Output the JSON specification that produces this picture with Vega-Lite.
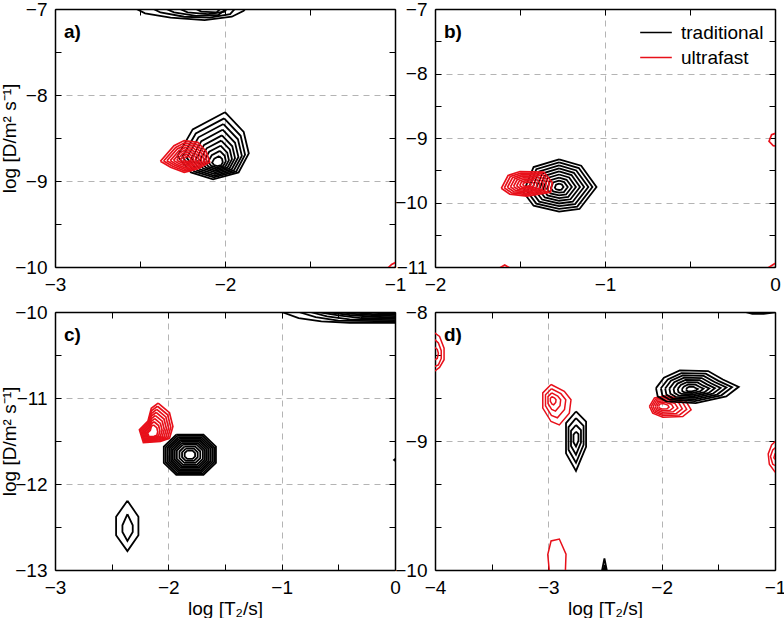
{
"$schema":"https://vega.github.io/schema/vega-lite/v6.json",
"padding":{"left":0,"top":0,"right":0,"bottom":0},
"data":{"values":[
{"p":"a","s":"t","r":1,"x":-2.57,"y":-6.95},{"p":"a","s":"t","r":1,"x":-2.47,"y":-7.05},{"p":"a","s":"t","r":1,"x":-2.32,"y":-7.1},{"p":"a","s":"t","r":1,"x":-2.12,"y":-7.13},{"p":"a","s":"t","r":1,"x":-1.96,"y":-7.09},{"p":"a","s":"t","r":1,"x":-1.89,"y":-7.02},{"p":"a","s":"t","r":1,"x":-1.86,"y":-6.95},
{"p":"a","s":"t","r":2,"x":-2.47,"y":-6.95},{"p":"a","s":"t","r":2,"x":-2.38,"y":-7.04},{"p":"a","s":"t","r":2,"x":-2.24,"y":-7.09},{"p":"a","s":"t","r":2,"x":-2.09,"y":-7.1},{"p":"a","s":"t","r":2,"x":-1.97,"y":-7.06},{"p":"a","s":"t","r":2,"x":-1.92,"y":-6.95},
{"p":"a","s":"t","r":3,"x":-2.4,"y":-6.95},{"p":"a","s":"t","r":3,"x":-2.3,"y":-7.04},{"p":"a","s":"t","r":3,"x":-2.17,"y":-7.08},{"p":"a","s":"t","r":3,"x":-2.04,"y":-7.07},{"p":"a","s":"t","r":3,"x":-1.96,"y":-6.95},
{"p":"a","s":"t","r":4,"x":-2.32,"y":-6.95},{"p":"a","s":"t","r":4,"x":-2.22,"y":-7.04},{"p":"a","s":"t","r":4,"x":-2.1,"y":-7.06},{"p":"a","s":"t","r":4,"x":-2.0,"y":-7.03},{"p":"a","s":"t","r":4,"x":-1.98,"y":-6.95},
{"p":"a","s":"t","r":5,"x":-2.22,"y":-6.95},{"p":"a","s":"t","r":5,"x":-2.14,"y":-7.03},{"p":"a","s":"t","r":5,"x":-2.05,"y":-7.04},{"p":"a","s":"t","r":5,"x":-2.0,"y":-6.95},
{"p":"a","s":"t","r":6,"x":-2.0,"y":-8.2},{"p":"a","s":"t","r":6,"x":-1.89,"y":-8.43},{"p":"a","s":"t","r":6,"x":-1.86,"y":-8.68},{"p":"a","s":"t","r":6,"x":-1.92,"y":-8.9},{"p":"a","s":"t","r":6,"x":-2.07,"y":-8.98},{"p":"a","s":"t","r":6,"x":-2.2,"y":-8.9},{"p":"a","s":"t","r":6,"x":-2.28,"y":-8.71},{"p":"a","s":"t","r":6,"x":-2.19,"y":-8.4},{"p":"a","s":"t","r":6,"x":-2.0,"y":-8.2},
{"p":"a","s":"t","r":7,"x":-2.005,"y":-8.272},{"p":"a","s":"t","r":7,"x":-1.908,"y":-8.474},{"p":"a","s":"t","r":7,"x":-1.882,"y":-8.694},{"p":"a","s":"t","r":7,"x":-1.934,"y":-8.888},{"p":"a","s":"t","r":7,"x":-2.066,"y":-8.958},{"p":"a","s":"t","r":7,"x":-2.181,"y":-8.888},{"p":"a","s":"t","r":7,"x":-2.251,"y":-8.721},{"p":"a","s":"t","r":7,"x":-2.172,"y":-8.448},{"p":"a","s":"t","r":7,"x":-2.005,"y":-8.272},
{"p":"a","s":"t","r":8,"x":-2.009,"y":-8.338},{"p":"a","s":"t","r":8,"x":-1.924,"y":-8.515},{"p":"a","s":"t","r":8,"x":-1.901,"y":-8.708},{"p":"a","s":"t","r":8,"x":-1.948,"y":-8.877},{"p":"a","s":"t","r":8,"x":-2.063,"y":-8.939},{"p":"a","s":"t","r":8,"x":-2.163,"y":-8.877},{"p":"a","s":"t","r":8,"x":-2.225,"y":-8.731},{"p":"a","s":"t","r":8,"x":-2.156,"y":-8.492},{"p":"a","s":"t","r":8,"x":-2.009,"y":-8.338},
{"p":"a","s":"t","r":9,"x":-2.014,"y":-8.404},{"p":"a","s":"t","r":9,"x":-1.941,"y":-8.556},{"p":"a","s":"t","r":9,"x":-1.921,"y":-8.721},{"p":"a","s":"t","r":9,"x":-1.961,"y":-8.866},{"p":"a","s":"t","r":9,"x":-2.06,"y":-8.919},{"p":"a","s":"t","r":9,"x":-2.146,"y":-8.866},{"p":"a","s":"t","r":9,"x":-2.198,"y":-8.741},{"p":"a","s":"t","r":9,"x":-2.139,"y":-8.536},{"p":"a","s":"t","r":9,"x":-2.014,"y":-8.404},
{"p":"a","s":"t","r":10,"x":-2.018,"y":-8.47},{"p":"a","s":"t","r":10,"x":-1.957,"y":-8.596},{"p":"a","s":"t","r":10,"x":-1.941,"y":-8.734},{"p":"a","s":"t","r":10,"x":-1.974,"y":-8.855},{"p":"a","s":"t","r":10,"x":-2.057,"y":-8.899},{"p":"a","s":"t","r":10,"x":-2.128,"y":-8.855},{"p":"a","s":"t","r":10,"x":-2.172,"y":-8.75},{"p":"a","s":"t","r":10,"x":-2.123,"y":-8.58},{"p":"a","s":"t","r":10,"x":-2.018,"y":-8.47},
{"p":"a","s":"t","r":11,"x":-2.022,"y":-8.53},{"p":"a","s":"t","r":11,"x":-1.972,"y":-8.633},{"p":"a","s":"t","r":11,"x":-1.959,"y":-8.746},{"p":"a","s":"t","r":11,"x":-1.986,"y":-8.845},{"p":"a","s":"t","r":11,"x":-2.054,"y":-8.881},{"p":"a","s":"t","r":11,"x":-2.112,"y":-8.845},{"p":"a","s":"t","r":11,"x":-2.148,"y":-8.759},{"p":"a","s":"t","r":11,"x":-2.108,"y":-8.62},{"p":"a","s":"t","r":11,"x":-2.022,"y":-8.53},
{"p":"a","s":"t","r":12,"x":-2.026,"y":-8.59},{"p":"a","s":"t","r":12,"x":-1.987,"y":-8.67},{"p":"a","s":"t","r":12,"x":-1.977,"y":-8.758},{"p":"a","s":"t","r":12,"x":-1.998,"y":-8.835},{"p":"a","s":"t","r":12,"x":-2.051,"y":-8.863},{"p":"a","s":"t","r":12,"x":-2.096,"y":-8.835},{"p":"a","s":"t","r":12,"x":-2.124,"y":-8.768},{"p":"a","s":"t","r":12,"x":-2.093,"y":-8.66},{"p":"a","s":"t","r":12,"x":-2.026,"y":-8.59},
{"p":"a","s":"t","r":13,"x":-2.03,"y":-8.65},{"p":"a","s":"t","r":13,"x":-2.002,"y":-8.707},{"p":"a","s":"t","r":13,"x":-1.995,"y":-8.77},{"p":"a","s":"t","r":13,"x":-2.01,"y":-8.825},{"p":"a","s":"t","r":13,"x":-2.048,"y":-8.845},{"p":"a","s":"t","r":13,"x":-2.08,"y":-8.825},{"p":"a","s":"t","r":13,"x":-2.1,"y":-8.777},{"p":"a","s":"t","r":13,"x":-2.078,"y":-8.7},{"p":"a","s":"t","r":13,"x":-2.03,"y":-8.65},
{"p":"a","s":"t","r":14,"x":-2.034,"y":-8.71},{"p":"a","s":"t","r":14,"x":-2.017,"y":-8.744},{"p":"a","s":"t","r":14,"x":-2.013,"y":-8.782},{"p":"a","s":"t","r":14,"x":-2.022,"y":-8.815},{"p":"a","s":"t","r":14,"x":-2.045,"y":-8.827},{"p":"a","s":"t","r":14,"x":-2.064,"y":-8.815},{"p":"a","s":"t","r":14,"x":-2.076,"y":-8.786},{"p":"a","s":"t","r":14,"x":-2.063,"y":-8.74},{"p":"a","s":"t","r":14,"x":-2.034,"y":-8.71},
{"p":"a","s":"u","r":15,"x":-2.38,"y":-8.77},{"p":"a","s":"u","r":15,"x":-2.3,"y":-8.59},{"p":"a","s":"u","r":15,"x":-2.24,"y":-8.53},{"p":"a","s":"u","r":15,"x":-2.16,"y":-8.55},{"p":"a","s":"u","r":15,"x":-2.11,"y":-8.66},{"p":"a","s":"u","r":15,"x":-2.09,"y":-8.78},{"p":"a","s":"u","r":15,"x":-2.16,"y":-8.86},{"p":"a","s":"u","r":15,"x":-2.24,"y":-8.9},{"p":"a","s":"u","r":15,"x":-2.32,"y":-8.84},{"p":"a","s":"u","r":15,"x":-2.38,"y":-8.77},
{"p":"a","s":"u","r":16,"x":-2.361,"y":-8.768},{"p":"a","s":"u","r":16,"x":-2.29,"y":-8.609},{"p":"a","s":"u","r":16,"x":-2.238,"y":-8.556},{"p":"a","s":"u","r":16,"x":-2.167,"y":-8.574},{"p":"a","s":"u","r":16,"x":-2.123,"y":-8.671},{"p":"a","s":"u","r":16,"x":-2.106,"y":-8.776},{"p":"a","s":"u","r":16,"x":-2.167,"y":-8.847},{"p":"a","s":"u","r":16,"x":-2.238,"y":-8.882},{"p":"a","s":"u","r":16,"x":-2.308,"y":-8.829},{"p":"a","s":"u","r":16,"x":-2.361,"y":-8.768},
{"p":"a","s":"u","r":17,"x":-2.342,"y":-8.765},{"p":"a","s":"u","r":17,"x":-2.281,"y":-8.628},{"p":"a","s":"u","r":17,"x":-2.235,"y":-8.583},{"p":"a","s":"u","r":17,"x":-2.174,"y":-8.598},{"p":"a","s":"u","r":17,"x":-2.136,"y":-8.682},{"p":"a","s":"u","r":17,"x":-2.121,"y":-8.773},{"p":"a","s":"u","r":17,"x":-2.174,"y":-8.834},{"p":"a","s":"u","r":17,"x":-2.235,"y":-8.864},{"p":"a","s":"u","r":17,"x":-2.296,"y":-8.818},{"p":"a","s":"u","r":17,"x":-2.342,"y":-8.765},
{"p":"a","s":"u","r":18,"x":-2.322,"y":-8.763},{"p":"a","s":"u","r":18,"x":-2.271,"y":-8.648},{"p":"a","s":"u","r":18,"x":-2.233,"y":-8.609},{"p":"a","s":"u","r":18,"x":-2.182,"y":-8.622},{"p":"a","s":"u","r":18,"x":-2.15,"y":-8.692},{"p":"a","s":"u","r":18,"x":-2.137,"y":-8.769},{"p":"a","s":"u","r":18,"x":-2.182,"y":-8.82},{"p":"a","s":"u","r":18,"x":-2.233,"y":-8.846},{"p":"a","s":"u","r":18,"x":-2.284,"y":-8.808},{"p":"a","s":"u","r":18,"x":-2.322,"y":-8.763},
{"p":"a","s":"u","r":19,"x":-2.303,"y":-8.76},{"p":"a","s":"u","r":19,"x":-2.262,"y":-8.667},{"p":"a","s":"u","r":19,"x":-2.23,"y":-8.636},{"p":"a","s":"u","r":19,"x":-2.189,"y":-8.646},{"p":"a","s":"u","r":19,"x":-2.163,"y":-8.703},{"p":"a","s":"u","r":19,"x":-2.152,"y":-8.766},{"p":"a","s":"u","r":19,"x":-2.189,"y":-8.807},{"p":"a","s":"u","r":19,"x":-2.23,"y":-8.828},{"p":"a","s":"u","r":19,"x":-2.272,"y":-8.797},{"p":"a","s":"u","r":19,"x":-2.303,"y":-8.76},
{"p":"a","s":"u","r":20,"x":-2.284,"y":-8.758},{"p":"a","s":"u","r":20,"x":-2.252,"y":-8.686},{"p":"a","s":"u","r":20,"x":-2.228,"y":-8.662},{"p":"a","s":"u","r":20,"x":-2.196,"y":-8.67},{"p":"a","s":"u","r":20,"x":-2.176,"y":-8.714},{"p":"a","s":"u","r":20,"x":-2.168,"y":-8.762},{"p":"a","s":"u","r":20,"x":-2.196,"y":-8.794},{"p":"a","s":"u","r":20,"x":-2.228,"y":-8.81},{"p":"a","s":"u","r":20,"x":-2.26,"y":-8.786},{"p":"a","s":"u","r":20,"x":-2.284,"y":-8.758},
{"p":"a","s":"u","r":21,"x":-2.265,"y":-8.756},{"p":"a","s":"u","r":21,"x":-2.242,"y":-8.705},{"p":"a","s":"u","r":21,"x":-2.226,"y":-8.688},{"p":"a","s":"u","r":21,"x":-2.203,"y":-8.694},{"p":"a","s":"u","r":21,"x":-2.189,"y":-8.725},{"p":"a","s":"u","r":21,"x":-2.184,"y":-8.758},{"p":"a","s":"u","r":21,"x":-2.203,"y":-8.781},{"p":"a","s":"u","r":21,"x":-2.226,"y":-8.792},{"p":"a","s":"u","r":21,"x":-2.248,"y":-8.775},{"p":"a","s":"u","r":21,"x":-2.265,"y":-8.756},
{"p":"a","s":"u","r":22,"x":-2.246,"y":-8.753},{"p":"a","s":"u","r":22,"x":-2.233,"y":-8.724},{"p":"a","s":"u","r":22,"x":-2.223,"y":-8.715},{"p":"a","s":"u","r":22,"x":-2.21,"y":-8.718},{"p":"a","s":"u","r":22,"x":-2.202,"y":-8.736},{"p":"a","s":"u","r":22,"x":-2.199,"y":-8.755},{"p":"a","s":"u","r":22,"x":-2.21,"y":-8.768},{"p":"a","s":"u","r":22,"x":-2.223,"y":-8.774},{"p":"a","s":"u","r":22,"x":-2.236,"y":-8.764},{"p":"a","s":"u","r":22,"x":-2.246,"y":-8.753},
{"p":"a","s":"u","r":23,"x":-1.06,"y":-10.05},{"p":"a","s":"u","r":23,"x":-1.02,"y":-9.97},{"p":"a","s":"u","r":23,"x":-0.98,"y":-9.93},
{"p":"a","s":"u","r":24,"x":-1.03,"y":-10.05},{"p":"a","s":"u","r":24,"x":-1.0,"y":-10.0},{"p":"a","s":"u","r":24,"x":-0.97,"y":-9.97},
{"p":"b","s":"t","r":25,"x":-1.27,"y":-9.33},{"p":"b","s":"t","r":25,"x":-1.14,"y":-9.43},{"p":"b","s":"t","r":25,"x":-1.05,"y":-9.76},{"p":"b","s":"t","r":25,"x":-1.15,"y":-10.1},{"p":"b","s":"t","r":25,"x":-1.27,"y":-10.14},{"p":"b","s":"t","r":25,"x":-1.42,"y":-10.05},{"p":"b","s":"t","r":25,"x":-1.48,"y":-9.84},{"p":"b","s":"t","r":25,"x":-1.42,"y":-9.45},{"p":"b","s":"t","r":25,"x":-1.27,"y":-9.33},
{"p":"b","s":"t","r":26,"x":-1.27,"y":-9.377},{"p":"b","s":"t","r":26,"x":-1.154,"y":-9.466},{"p":"b","s":"t","r":26,"x":-1.074,"y":-9.76},{"p":"b","s":"t","r":26,"x":-1.163,"y":-10.063},{"p":"b","s":"t","r":26,"x":-1.27,"y":-10.098},{"p":"b","s":"t","r":26,"x":-1.404,"y":-10.018},{"p":"b","s":"t","r":26,"x":-1.457,"y":-9.831},{"p":"b","s":"t","r":26,"x":-1.404,"y":-9.484},{"p":"b","s":"t","r":26,"x":-1.27,"y":-9.377},
{"p":"b","s":"t","r":27,"x":-1.27,"y":-9.425},{"p":"b","s":"t","r":27,"x":-1.169,"y":-9.503},{"p":"b","s":"t","r":27,"x":-1.098,"y":-9.76},{"p":"b","s":"t","r":27,"x":-1.176,"y":-10.025},{"p":"b","s":"t","r":27,"x":-1.27,"y":-10.056},{"p":"b","s":"t","r":27,"x":-1.387,"y":-9.986},{"p":"b","s":"t","r":27,"x":-1.434,"y":-9.822},{"p":"b","s":"t","r":27,"x":-1.387,"y":-9.518},{"p":"b","s":"t","r":27,"x":-1.27,"y":-9.425},
{"p":"b","s":"t","r":28,"x":-1.27,"y":-9.472},{"p":"b","s":"t","r":28,"x":-1.183,"y":-9.539},{"p":"b","s":"t","r":28,"x":-1.123,"y":-9.76},{"p":"b","s":"t","r":28,"x":-1.19,"y":-9.988},{"p":"b","s":"t","r":28,"x":-1.27,"y":-10.015},{"p":"b","s":"t","r":28,"x":-1.37,"y":-9.954},{"p":"b","s":"t","r":28,"x":-1.411,"y":-9.814},{"p":"b","s":"t","r":28,"x":-1.37,"y":-9.552},{"p":"b","s":"t","r":28,"x":-1.27,"y":-9.472},
{"p":"b","s":"t","r":29,"x":-1.27,"y":-9.519},{"p":"b","s":"t","r":29,"x":-1.197,"y":-9.575},{"p":"b","s":"t","r":29,"x":-1.147,"y":-9.76},{"p":"b","s":"t","r":29,"x":-1.203,"y":-9.95},{"p":"b","s":"t","r":29,"x":-1.27,"y":-9.973},{"p":"b","s":"t","r":29,"x":-1.354,"y":-9.922},{"p":"b","s":"t","r":29,"x":-1.388,"y":-9.805},{"p":"b","s":"t","r":29,"x":-1.354,"y":-9.586},{"p":"b","s":"t","r":29,"x":-1.27,"y":-9.519},
{"p":"b","s":"t","r":30,"x":-1.27,"y":-9.566},{"p":"b","s":"t","r":30,"x":-1.211,"y":-9.611},{"p":"b","s":"t","r":30,"x":-1.171,"y":-9.76},{"p":"b","s":"t","r":30,"x":-1.216,"y":-9.913},{"p":"b","s":"t","r":30,"x":-1.27,"y":-9.931},{"p":"b","s":"t","r":30,"x":-1.338,"y":-9.891},{"p":"b","s":"t","r":30,"x":-1.365,"y":-9.796},{"p":"b","s":"t","r":30,"x":-1.338,"y":-9.62},{"p":"b","s":"t","r":30,"x":-1.27,"y":-9.566},
{"p":"b","s":"t","r":31,"x":-1.27,"y":-9.614},{"p":"b","s":"t","r":31,"x":-1.226,"y":-9.648},{"p":"b","s":"t","r":31,"x":-1.195,"y":-9.76},{"p":"b","s":"t","r":31,"x":-1.229,"y":-9.876},{"p":"b","s":"t","r":31,"x":-1.27,"y":-9.889},{"p":"b","s":"t","r":31,"x":-1.321,"y":-9.859},{"p":"b","s":"t","r":31,"x":-1.341,"y":-9.787},{"p":"b","s":"t","r":31,"x":-1.321,"y":-9.655},{"p":"b","s":"t","r":31,"x":-1.27,"y":-9.614},
{"p":"b","s":"t","r":32,"x":-1.27,"y":-9.661},{"p":"b","s":"t","r":32,"x":-1.24,"y":-9.684},{"p":"b","s":"t","r":32,"x":-1.219,"y":-9.76},{"p":"b","s":"t","r":32,"x":-1.242,"y":-9.838},{"p":"b","s":"t","r":32,"x":-1.27,"y":-9.847},{"p":"b","s":"t","r":32,"x":-1.305,"y":-9.827},{"p":"b","s":"t","r":32,"x":-1.318,"y":-9.778},{"p":"b","s":"t","r":32,"x":-1.305,"y":-9.689},{"p":"b","s":"t","r":32,"x":-1.27,"y":-9.661},
{"p":"b","s":"t","r":33,"x":-1.27,"y":-9.708},{"p":"b","s":"t","r":33,"x":-1.254,"y":-9.72},{"p":"b","s":"t","r":33,"x":-1.244,"y":-9.76},{"p":"b","s":"t","r":33,"x":-1.256,"y":-9.801},{"p":"b","s":"t","r":33,"x":-1.27,"y":-9.806},{"p":"b","s":"t","r":33,"x":-1.288,"y":-9.795},{"p":"b","s":"t","r":33,"x":-1.295,"y":-9.77},{"p":"b","s":"t","r":33,"x":-1.288,"y":-9.723},{"p":"b","s":"t","r":33,"x":-1.27,"y":-9.708},
{"p":"b","s":"u","r":34,"x":-1.61,"y":-9.78},{"p":"b","s":"u","r":34,"x":-1.57,"y":-9.58},{"p":"b","s":"u","r":34,"x":-1.5,"y":-9.52},{"p":"b","s":"u","r":34,"x":-1.36,"y":-9.53},{"p":"b","s":"u","r":34,"x":-1.31,"y":-9.69},{"p":"b","s":"u","r":34,"x":-1.32,"y":-9.84},{"p":"b","s":"u","r":34,"x":-1.46,"y":-9.9},{"p":"b","s":"u","r":34,"x":-1.56,"y":-9.87},{"p":"b","s":"u","r":34,"x":-1.61,"y":-9.78},
{"p":"b","s":"u","r":35,"x":-1.592,"y":-9.773},{"p":"b","s":"u","r":35,"x":-1.557,"y":-9.597},{"p":"b","s":"u","r":35,"x":-1.495,"y":-9.544},{"p":"b","s":"u","r":35,"x":-1.372,"y":-9.553},{"p":"b","s":"u","r":35,"x":-1.328,"y":-9.694},{"p":"b","s":"u","r":35,"x":-1.337,"y":-9.826},{"p":"b","s":"u","r":35,"x":-1.46,"y":-9.878},{"p":"b","s":"u","r":35,"x":-1.548,"y":-9.852},{"p":"b","s":"u","r":35,"x":-1.592,"y":-9.773},
{"p":"b","s":"u","r":36,"x":-1.574,"y":-9.766},{"p":"b","s":"u","r":36,"x":-1.544,"y":-9.614},{"p":"b","s":"u","r":36,"x":-1.49,"y":-9.568},{"p":"b","s":"u","r":36,"x":-1.384,"y":-9.576},{"p":"b","s":"u","r":36,"x":-1.346,"y":-9.697},{"p":"b","s":"u","r":36,"x":-1.354,"y":-9.811},{"p":"b","s":"u","r":36,"x":-1.46,"y":-9.857},{"p":"b","s":"u","r":36,"x":-1.536,"y":-9.834},{"p":"b","s":"u","r":36,"x":-1.574,"y":-9.766},
{"p":"b","s":"u","r":37,"x":-1.556,"y":-9.758},{"p":"b","s":"u","r":37,"x":-1.53,"y":-9.63},{"p":"b","s":"u","r":37,"x":-1.486,"y":-9.592},{"p":"b","s":"u","r":37,"x":-1.396,"y":-9.598},{"p":"b","s":"u","r":37,"x":-1.364,"y":-9.701},{"p":"b","s":"u","r":37,"x":-1.37,"y":-9.797},{"p":"b","s":"u","r":37,"x":-1.46,"y":-9.835},{"p":"b","s":"u","r":37,"x":-1.524,"y":-9.816},{"p":"b","s":"u","r":37,"x":-1.556,"y":-9.758},
{"p":"b","s":"u","r":38,"x":-1.538,"y":-9.751},{"p":"b","s":"u","r":38,"x":-1.517,"y":-9.647},{"p":"b","s":"u","r":38,"x":-1.481,"y":-9.616},{"p":"b","s":"u","r":38,"x":-1.408,"y":-9.621},{"p":"b","s":"u","r":38,"x":-1.382,"y":-9.704},{"p":"b","s":"u","r":38,"x":-1.387,"y":-9.782},{"p":"b","s":"u","r":38,"x":-1.46,"y":-9.814},{"p":"b","s":"u","r":38,"x":-1.512,"y":-9.798},{"p":"b","s":"u","r":38,"x":-1.538,"y":-9.751},
{"p":"b","s":"u","r":39,"x":-1.52,"y":-9.744},{"p":"b","s":"u","r":39,"x":-1.504,"y":-9.664},{"p":"b","s":"u","r":39,"x":-1.476,"y":-9.64},{"p":"b","s":"u","r":39,"x":-1.42,"y":-9.644},{"p":"b","s":"u","r":39,"x":-1.4,"y":-9.708},{"p":"b","s":"u","r":39,"x":-1.404,"y":-9.768},{"p":"b","s":"u","r":39,"x":-1.46,"y":-9.792},{"p":"b","s":"u","r":39,"x":-1.5,"y":-9.78},{"p":"b","s":"u","r":39,"x":-1.52,"y":-9.744},
{"p":"b","s":"u","r":40,"x":-1.502,"y":-9.737},{"p":"b","s":"u","r":40,"x":-1.491,"y":-9.681},{"p":"b","s":"u","r":40,"x":-1.471,"y":-9.664},{"p":"b","s":"u","r":40,"x":-1.432,"y":-9.667},{"p":"b","s":"u","r":40,"x":-1.418,"y":-9.712},{"p":"b","s":"u","r":40,"x":-1.421,"y":-9.754},{"p":"b","s":"u","r":40,"x":-1.46,"y":-9.77},{"p":"b","s":"u","r":40,"x":-1.488,"y":-9.762},{"p":"b","s":"u","r":40,"x":-1.502,"y":-9.737},
{"p":"b","s":"u","r":41,"x":-1.484,"y":-9.73},{"p":"b","s":"u","r":41,"x":-1.478,"y":-9.698},{"p":"b","s":"u","r":41,"x":-1.466,"y":-9.688},{"p":"b","s":"u","r":41,"x":-1.444,"y":-9.69},{"p":"b","s":"u","r":41,"x":-1.436,"y":-9.715},{"p":"b","s":"u","r":41,"x":-1.438,"y":-9.739},{"p":"b","s":"u","r":41,"x":-1.46,"y":-9.749},{"p":"b","s":"u","r":41,"x":-1.476,"y":-9.744},{"p":"b","s":"u","r":41,"x":-1.484,"y":-9.73},
{"p":"b","s":"u","r":42,"x":0.03,"y":-8.9},{"p":"b","s":"u","r":42,"x":-0.02,"y":-8.95},{"p":"b","s":"u","r":42,"x":-0.035,"y":-9.05},{"p":"b","s":"u","r":42,"x":-0.01,"y":-9.12},{"p":"b","s":"u","r":42,"x":0.03,"y":-9.13},
{"p":"b","s":"u","r":43,"x":-1.63,"y":-11.03},{"p":"b","s":"u","r":43,"x":-1.59,"y":-10.97},{"p":"b","s":"u","r":43,"x":-1.55,"y":-11.03},
{"p":"b","s":"u","r":44,"x":-0.05,"y":-11.03},{"p":"b","s":"u","r":44,"x":-0.01,"y":-10.96},{"p":"b","s":"u","r":44,"x":0.03,"y":-10.9},
{"p":"b","s":"u","r":45,"x":-0.02,"y":-11.03},{"p":"b","s":"u","r":45,"x":0.03,"y":-10.97},
{"p":"c","s":"t","r":46,"x":-1.93,"y":-11.425},{"p":"c","s":"t","r":46,"x":-1.69,"y":-11.425},{"p":"c","s":"t","r":46,"x":-1.58,"y":-11.566},{"p":"c","s":"t","r":46,"x":-1.58,"y":-11.754},{"p":"c","s":"t","r":46,"x":-1.69,"y":-11.895},{"p":"c","s":"t","r":46,"x":-1.93,"y":-11.895},{"p":"c","s":"t","r":46,"x":-2.04,"y":-11.754},{"p":"c","s":"t","r":46,"x":-2.04,"y":-11.566},{"p":"c","s":"t","r":46,"x":-1.93,"y":-11.425},
{"p":"c","s":"t","r":47,"x":-1.922,"y":-11.441},{"p":"c","s":"t","r":47,"x":-1.698,"y":-11.441},{"p":"c","s":"t","r":47,"x":-1.596,"y":-11.573},{"p":"c","s":"t","r":47,"x":-1.596,"y":-11.747},{"p":"c","s":"t","r":47,"x":-1.698,"y":-11.879},{"p":"c","s":"t","r":47,"x":-1.922,"y":-11.879},{"p":"c","s":"t","r":47,"x":-2.024,"y":-11.747},{"p":"c","s":"t","r":47,"x":-2.024,"y":-11.573},{"p":"c","s":"t","r":47,"x":-1.922,"y":-11.441},
{"p":"c","s":"t","r":48,"x":-1.913,"y":-11.458},{"p":"c","s":"t","r":48,"x":-1.707,"y":-11.458},{"p":"c","s":"t","r":48,"x":-1.612,"y":-11.579},{"p":"c","s":"t","r":48,"x":-1.612,"y":-11.741},{"p":"c","s":"t","r":48,"x":-1.707,"y":-11.862},{"p":"c","s":"t","r":48,"x":-1.913,"y":-11.862},{"p":"c","s":"t","r":48,"x":-2.008,"y":-11.741},{"p":"c","s":"t","r":48,"x":-2.008,"y":-11.579},{"p":"c","s":"t","r":48,"x":-1.913,"y":-11.458},
{"p":"c","s":"t","r":49,"x":-1.905,"y":-11.474},{"p":"c","s":"t","r":49,"x":-1.715,"y":-11.474},{"p":"c","s":"t","r":49,"x":-1.628,"y":-11.586},{"p":"c","s":"t","r":49,"x":-1.628,"y":-11.734},{"p":"c","s":"t","r":49,"x":-1.715,"y":-11.846},{"p":"c","s":"t","r":49,"x":-1.905,"y":-11.846},{"p":"c","s":"t","r":49,"x":-1.992,"y":-11.734},{"p":"c","s":"t","r":49,"x":-1.992,"y":-11.586},{"p":"c","s":"t","r":49,"x":-1.905,"y":-11.474},
{"p":"c","s":"t","r":50,"x":-1.896,"y":-11.491},{"p":"c","s":"t","r":50,"x":-1.724,"y":-11.491},{"p":"c","s":"t","r":50,"x":-1.644,"y":-11.592},{"p":"c","s":"t","r":50,"x":-1.644,"y":-11.728},{"p":"c","s":"t","r":50,"x":-1.724,"y":-11.829},{"p":"c","s":"t","r":50,"x":-1.896,"y":-11.829},{"p":"c","s":"t","r":50,"x":-1.976,"y":-11.728},{"p":"c","s":"t","r":50,"x":-1.976,"y":-11.592},{"p":"c","s":"t","r":50,"x":-1.896,"y":-11.491},
{"p":"c","s":"t","r":51,"x":-1.888,"y":-11.507},{"p":"c","s":"t","r":51,"x":-1.732,"y":-11.507},{"p":"c","s":"t","r":51,"x":-1.66,"y":-11.599},{"p":"c","s":"t","r":51,"x":-1.66,"y":-11.721},{"p":"c","s":"t","r":51,"x":-1.732,"y":-11.813},{"p":"c","s":"t","r":51,"x":-1.888,"y":-11.813},{"p":"c","s":"t","r":51,"x":-1.96,"y":-11.721},{"p":"c","s":"t","r":51,"x":-1.96,"y":-11.599},{"p":"c","s":"t","r":51,"x":-1.888,"y":-11.507},
{"p":"c","s":"t","r":52,"x":-1.88,"y":-11.524},{"p":"c","s":"t","r":52,"x":-1.74,"y":-11.524},{"p":"c","s":"t","r":52,"x":-1.677,"y":-11.605},{"p":"c","s":"t","r":52,"x":-1.677,"y":-11.715},{"p":"c","s":"t","r":52,"x":-1.74,"y":-11.796},{"p":"c","s":"t","r":52,"x":-1.88,"y":-11.796},{"p":"c","s":"t","r":52,"x":-1.943,"y":-11.715},{"p":"c","s":"t","r":52,"x":-1.943,"y":-11.605},{"p":"c","s":"t","r":52,"x":-1.88,"y":-11.524},
{"p":"c","s":"t","r":53,"x":-1.87,"y":-11.542},{"p":"c","s":"t","r":53,"x":-1.75,"y":-11.542},{"p":"c","s":"t","r":53,"x":-1.695,"y":-11.613},{"p":"c","s":"t","r":53,"x":-1.695,"y":-11.707},{"p":"c","s":"t","r":53,"x":-1.75,"y":-11.778},{"p":"c","s":"t","r":53,"x":-1.87,"y":-11.778},{"p":"c","s":"t","r":53,"x":-1.925,"y":-11.707},{"p":"c","s":"t","r":53,"x":-1.925,"y":-11.613},{"p":"c","s":"t","r":53,"x":-1.87,"y":-11.542},
{"p":"c","s":"t","r":54,"x":-1.858,"y":-11.566},{"p":"c","s":"t","r":54,"x":-1.762,"y":-11.566},{"p":"c","s":"t","r":54,"x":-1.718,"y":-11.622},{"p":"c","s":"t","r":54,"x":-1.718,"y":-11.698},{"p":"c","s":"t","r":54,"x":-1.762,"y":-11.754},{"p":"c","s":"t","r":54,"x":-1.858,"y":-11.754},{"p":"c","s":"t","r":54,"x":-1.902,"y":-11.698},{"p":"c","s":"t","r":54,"x":-1.902,"y":-11.622},{"p":"c","s":"t","r":54,"x":-1.858,"y":-11.566},
{"p":"c","s":"t","r":55,"x":-1.846,"y":-11.589},{"p":"c","s":"t","r":55,"x":-1.774,"y":-11.589},{"p":"c","s":"t","r":55,"x":-1.741,"y":-11.632},{"p":"c","s":"t","r":55,"x":-1.741,"y":-11.688},{"p":"c","s":"t","r":55,"x":-1.774,"y":-11.731},{"p":"c","s":"t","r":55,"x":-1.846,"y":-11.731},{"p":"c","s":"t","r":55,"x":-1.879,"y":-11.688},{"p":"c","s":"t","r":55,"x":-1.879,"y":-11.632},{"p":"c","s":"t","r":55,"x":-1.846,"y":-11.589},
{"p":"c","s":"t","r":56,"x":-1.834,"y":-11.613},{"p":"c","s":"t","r":56,"x":-1.786,"y":-11.613},{"p":"c","s":"t","r":56,"x":-1.764,"y":-11.641},{"p":"c","s":"t","r":56,"x":-1.764,"y":-11.679},{"p":"c","s":"t","r":56,"x":-1.786,"y":-11.707},{"p":"c","s":"t","r":56,"x":-1.834,"y":-11.707},{"p":"c","s":"t","r":56,"x":-1.856,"y":-11.679},{"p":"c","s":"t","r":56,"x":-1.856,"y":-11.641},{"p":"c","s":"t","r":56,"x":-1.834,"y":-11.613},
{"p":"c","s":"u","r":57,"x":-2.09,"y":-11.06},{"p":"c","s":"u","r":57,"x":-1.99,"y":-11.17},{"p":"c","s":"u","r":57,"x":-1.96,"y":-11.33},{"p":"c","s":"u","r":57,"x":-1.99,"y":-11.47},{"p":"c","s":"u","r":57,"x":-2.07,"y":-11.505},{"p":"c","s":"u","r":57,"x":-2.22,"y":-11.52},{"p":"c","s":"u","r":57,"x":-2.255,"y":-11.37},{"p":"c","s":"u","r":57,"x":-2.18,"y":-11.27},{"p":"c","s":"u","r":57,"x":-2.15,"y":-11.12},{"p":"c","s":"u","r":57,"x":-2.09,"y":-11.06},
{"p":"c","s":"u","r":58,"x":-2.096,"y":-11.096},{"p":"c","s":"u","r":58,"x":-2.006,"y":-11.195},{"p":"c","s":"u","r":58,"x":-1.979,"y":-11.339},{"p":"c","s":"u","r":58,"x":-2.006,"y":-11.465},{"p":"c","s":"u","r":58,"x":-2.078,"y":-11.497},{"p":"c","s":"u","r":58,"x":-2.213,"y":-11.51},{"p":"c","s":"u","r":58,"x":-2.245,"y":-11.375},{"p":"c","s":"u","r":58,"x":-2.177,"y":-11.285},{"p":"c","s":"u","r":58,"x":-2.15,"y":-11.15},{"p":"c","s":"u","r":58,"x":-2.096,"y":-11.096},
{"p":"c","s":"u","r":59,"x":-2.102,"y":-11.132},{"p":"c","s":"u","r":59,"x":-2.022,"y":-11.22},{"p":"c","s":"u","r":59,"x":-1.998,"y":-11.348},{"p":"c","s":"u","r":59,"x":-2.022,"y":-11.46},{"p":"c","s":"u","r":59,"x":-2.086,"y":-11.488},{"p":"c","s":"u","r":59,"x":-2.206,"y":-11.5},{"p":"c","s":"u","r":59,"x":-2.234,"y":-11.38},{"p":"c","s":"u","r":59,"x":-2.174,"y":-11.3},{"p":"c","s":"u","r":59,"x":-2.15,"y":-11.18},{"p":"c","s":"u","r":59,"x":-2.102,"y":-11.132},
{"p":"c","s":"u","r":60,"x":-2.108,"y":-11.168},{"p":"c","s":"u","r":60,"x":-2.038,"y":-11.245},{"p":"c","s":"u","r":60,"x":-2.017,"y":-11.357},{"p":"c","s":"u","r":60,"x":-2.038,"y":-11.455},{"p":"c","s":"u","r":60,"x":-2.094,"y":-11.48},{"p":"c","s":"u","r":60,"x":-2.199,"y":-11.49},{"p":"c","s":"u","r":60,"x":-2.224,"y":-11.385},{"p":"c","s":"u","r":60,"x":-2.171,"y":-11.315},{"p":"c","s":"u","r":60,"x":-2.15,"y":-11.21},{"p":"c","s":"u","r":60,"x":-2.108,"y":-11.168},
{"p":"c","s":"u","r":61,"x":-2.114,"y":-11.204},{"p":"c","s":"u","r":61,"x":-2.054,"y":-11.27},{"p":"c","s":"u","r":61,"x":-2.036,"y":-11.366},{"p":"c","s":"u","r":61,"x":-2.054,"y":-11.45},{"p":"c","s":"u","r":61,"x":-2.102,"y":-11.471},{"p":"c","s":"u","r":61,"x":-2.192,"y":-11.48},{"p":"c","s":"u","r":61,"x":-2.213,"y":-11.39},{"p":"c","s":"u","r":61,"x":-2.168,"y":-11.33},{"p":"c","s":"u","r":61,"x":-2.15,"y":-11.24},{"p":"c","s":"u","r":61,"x":-2.114,"y":-11.204},
{"p":"c","s":"u","r":62,"x":-2.12,"y":-11.24},{"p":"c","s":"u","r":62,"x":-2.07,"y":-11.295},{"p":"c","s":"u","r":62,"x":-2.055,"y":-11.375},{"p":"c","s":"u","r":62,"x":-2.07,"y":-11.445},{"p":"c","s":"u","r":62,"x":-2.11,"y":-11.463},{"p":"c","s":"u","r":62,"x":-2.185,"y":-11.47},{"p":"c","s":"u","r":62,"x":-2.203,"y":-11.395},{"p":"c","s":"u","r":62,"x":-2.165,"y":-11.345},{"p":"c","s":"u","r":62,"x":-2.15,"y":-11.27},{"p":"c","s":"u","r":62,"x":-2.12,"y":-11.24},
{"p":"c","s":"u","r":63,"x":-2.126,"y":-11.276},{"p":"c","s":"u","r":63,"x":-2.086,"y":-11.32},{"p":"c","s":"u","r":63,"x":-2.074,"y":-11.384},{"p":"c","s":"u","r":63,"x":-2.086,"y":-11.44},{"p":"c","s":"u","r":63,"x":-2.118,"y":-11.454},{"p":"c","s":"u","r":63,"x":-2.178,"y":-11.46},{"p":"c","s":"u","r":63,"x":-2.192,"y":-11.4},{"p":"c","s":"u","r":63,"x":-2.162,"y":-11.36},{"p":"c","s":"u","r":63,"x":-2.15,"y":-11.3},{"p":"c","s":"u","r":63,"x":-2.126,"y":-11.276},
{"p":"c","s":"u","r":64,"x":-2.132,"y":-11.312},{"p":"c","s":"u","r":64,"x":-2.102,"y":-11.345},{"p":"c","s":"u","r":64,"x":-2.093,"y":-11.393},{"p":"c","s":"u","r":64,"x":-2.102,"y":-11.435},{"p":"c","s":"u","r":64,"x":-2.126,"y":-11.446},{"p":"c","s":"u","r":64,"x":-2.171,"y":-11.45},{"p":"c","s":"u","r":64,"x":-2.182,"y":-11.405},{"p":"c","s":"u","r":64,"x":-2.159,"y":-11.375},{"p":"c","s":"u","r":64,"x":-2.15,"y":-11.33},{"p":"c","s":"u","r":64,"x":-2.132,"y":-11.312},
{"p":"c","s":"t","r":65,"x":-2.361,"y":-12.195},{"p":"c","s":"t","r":65,"x":-2.264,"y":-12.38},{"p":"c","s":"t","r":65,"x":-2.264,"y":-12.596},{"p":"c","s":"t","r":65,"x":-2.361,"y":-12.78},{"p":"c","s":"t","r":65,"x":-2.461,"y":-12.596},{"p":"c","s":"t","r":65,"x":-2.461,"y":-12.38},{"p":"c","s":"t","r":65,"x":-2.361,"y":-12.195},
{"p":"c","s":"t","r":66,"x":-2.361,"y":-12.35},{"p":"c","s":"t","r":66,"x":-2.314,"y":-12.48},{"p":"c","s":"t","r":66,"x":-2.314,"y":-12.558},{"p":"c","s":"t","r":66,"x":-2.361,"y":-12.663},{"p":"c","s":"t","r":66,"x":-2.405,"y":-12.558},{"p":"c","s":"t","r":66,"x":-2.405,"y":-12.48},{"p":"c","s":"t","r":66,"x":-2.361,"y":-12.35},
{"p":"c","s":"t","r":67,"x":-1.0,"y":-10.0},{"p":"c","s":"t","r":67,"x":-0.85,"y":-10.07},{"p":"c","s":"t","r":67,"x":-0.65,"y":-10.11},{"p":"c","s":"t","r":67,"x":-0.4,"y":-10.125},{"p":"c","s":"t","r":67,"x":0.02,"y":-10.125},
{"p":"c","s":"t","r":68,"x":-0.85,"y":-10.0},{"p":"c","s":"t","r":68,"x":-0.7,"y":-10.06},{"p":"c","s":"t","r":68,"x":-0.5,"y":-10.1},{"p":"c","s":"t","r":68,"x":0.02,"y":-10.11},
{"p":"c","s":"t","r":69,"x":-0.75,"y":-10.0},{"p":"c","s":"t","r":69,"x":-0.6,"y":-10.05},{"p":"c","s":"t","r":69,"x":-0.4,"y":-10.085},{"p":"c","s":"t","r":69,"x":0.02,"y":-10.095},
{"p":"c","s":"t","r":70,"x":-0.68,"y":-10.0},{"p":"c","s":"t","r":70,"x":-0.5,"y":-10.04},{"p":"c","s":"t","r":70,"x":-0.3,"y":-10.07},{"p":"c","s":"t","r":70,"x":0.02,"y":-10.08},
{"p":"c","s":"t","r":71,"x":-0.6,"y":-10.0},{"p":"c","s":"t","r":71,"x":-0.4,"y":-10.035},{"p":"c","s":"t","r":71,"x":-0.2,"y":-10.055},{"p":"c","s":"t","r":71,"x":0.02,"y":-10.065},
{"p":"c","s":"t","r":72,"x":-0.5,"y":-10.0},{"p":"c","s":"t","r":72,"x":-0.3,"y":-10.03},{"p":"c","s":"t","r":72,"x":0.02,"y":-10.05},
{"p":"c","s":"t","r":73,"x":-0.4,"y":-10.0},{"p":"c","s":"t","r":73,"x":-0.2,"y":-10.025},{"p":"c","s":"t","r":73,"x":0.02,"y":-10.035},
{"p":"c","s":"t","r":74,"x":-0.3,"y":-10.0},{"p":"c","s":"t","r":74,"x":-0.1,"y":-10.015},{"p":"c","s":"t","r":74,"x":0.02,"y":-10.02},
{"p":"c","s":"t","r":75,"x":0.02,"y":-11.69},{"p":"c","s":"t","r":75,"x":-0.008,"y":-11.72},{"p":"c","s":"t","r":75,"x":0.02,"y":-11.75},
{"p":"d","s":"t","r":76,"x":-2.05,"y":-8.59},{"p":"d","s":"t","r":76,"x":-1.98,"y":-8.51},{"p":"d","s":"t","r":76,"x":-1.84,"y":-8.453},{"p":"d","s":"t","r":76,"x":-1.59,"y":-8.458},{"p":"d","s":"t","r":76,"x":-1.46,"y":-8.523},{"p":"d","s":"t","r":76,"x":-1.32,"y":-8.58},{"p":"d","s":"t","r":76,"x":-1.43,"y":-8.654},{"p":"d","s":"t","r":76,"x":-1.7,"y":-8.706},{"p":"d","s":"t","r":76,"x":-1.96,"y":-8.693},{"p":"d","s":"t","r":76,"x":-2.035,"y":-8.654},{"p":"d","s":"t","r":76,"x":-2.05,"y":-8.59},
{"p":"d","s":"t","r":77,"x":-2.007,"y":-8.591},{"p":"d","s":"t","r":77,"x":-1.946,"y":-8.523},{"p":"d","s":"t","r":77,"x":-1.826,"y":-8.474},{"p":"d","s":"t","r":77,"x":-1.611,"y":-8.478},{"p":"d","s":"t","r":77,"x":-1.499,"y":-8.534},{"p":"d","s":"t","r":77,"x":-1.379,"y":-8.583},{"p":"d","s":"t","r":77,"x":-1.473,"y":-8.646},{"p":"d","s":"t","r":77,"x":-1.706,"y":-8.691},{"p":"d","s":"t","r":77,"x":-1.929,"y":-8.68},{"p":"d","s":"t","r":77,"x":-1.994,"y":-8.646},{"p":"d","s":"t","r":77,"x":-2.007,"y":-8.591},
{"p":"d","s":"t","r":78,"x":-1.969,"y":-8.593},{"p":"d","s":"t","r":78,"x":-1.918,"y":-8.533},{"p":"d","s":"t","r":78,"x":-1.814,"y":-8.491},{"p":"d","s":"t","r":78,"x":-1.629,"y":-8.495},{"p":"d","s":"t","r":78,"x":-1.533,"y":-8.543},{"p":"d","s":"t","r":78,"x":-1.429,"y":-8.585},{"p":"d","s":"t","r":78,"x":-1.511,"y":-8.64},{"p":"d","s":"t","r":78,"x":-1.71,"y":-8.678},{"p":"d","s":"t","r":78,"x":-1.903,"y":-8.669},{"p":"d","s":"t","r":78,"x":-1.958,"y":-8.64},{"p":"d","s":"t","r":78,"x":-1.969,"y":-8.593},
{"p":"d","s":"t","r":79,"x":-1.932,"y":-8.594},{"p":"d","s":"t","r":79,"x":-1.889,"y":-8.544},{"p":"d","s":"t","r":79,"x":-1.802,"y":-8.509},{"p":"d","s":"t","r":79,"x":-1.647,"y":-8.512},{"p":"d","s":"t","r":79,"x":-1.566,"y":-8.552},{"p":"d","s":"t","r":79,"x":-1.48,"y":-8.588},{"p":"d","s":"t","r":79,"x":-1.548,"y":-8.633},{"p":"d","s":"t","r":79,"x":-1.715,"y":-8.666},{"p":"d","s":"t","r":79,"x":-1.876,"y":-8.658},{"p":"d","s":"t","r":79,"x":-1.923,"y":-8.633},{"p":"d","s":"t","r":79,"x":-1.932,"y":-8.594},
{"p":"d","s":"t","r":80,"x":-1.895,"y":-8.595},{"p":"d","s":"t","r":80,"x":-1.86,"y":-8.555},{"p":"d","s":"t","r":80,"x":-1.79,"y":-8.526},{"p":"d","s":"t","r":80,"x":-1.665,"y":-8.529},{"p":"d","s":"t","r":80,"x":-1.6,"y":-8.561},{"p":"d","s":"t","r":80,"x":-1.53,"y":-8.59},{"p":"d","s":"t","r":80,"x":-1.585,"y":-8.627},{"p":"d","s":"t","r":80,"x":-1.72,"y":-8.653},{"p":"d","s":"t","r":80,"x":-1.85,"y":-8.647},{"p":"d","s":"t","r":80,"x":-1.888,"y":-8.627},{"p":"d","s":"t","r":80,"x":-1.895,"y":-8.595},
{"p":"d","s":"t","r":81,"x":-1.858,"y":-8.596},{"p":"d","s":"t","r":81,"x":-1.831,"y":-8.566},{"p":"d","s":"t","r":81,"x":-1.778,"y":-8.544},{"p":"d","s":"t","r":81,"x":-1.683,"y":-8.546},{"p":"d","s":"t","r":81,"x":-1.634,"y":-8.571},{"p":"d","s":"t","r":81,"x":-1.58,"y":-8.592},{"p":"d","s":"t","r":81,"x":-1.622,"y":-8.621},{"p":"d","s":"t","r":81,"x":-1.725,"y":-8.64},{"p":"d","s":"t","r":81,"x":-1.824,"y":-8.635},{"p":"d","s":"t","r":81,"x":-1.852,"y":-8.621},{"p":"d","s":"t","r":81,"x":-1.858,"y":-8.596},
{"p":"d","s":"t","r":82,"x":-1.821,"y":-8.597},{"p":"d","s":"t","r":82,"x":-1.802,"y":-8.577},{"p":"d","s":"t","r":82,"x":-1.766,"y":-8.562},{"p":"d","s":"t","r":82,"x":-1.701,"y":-8.563},{"p":"d","s":"t","r":82,"x":-1.667,"y":-8.58},{"p":"d","s":"t","r":82,"x":-1.631,"y":-8.595},{"p":"d","s":"t","r":82,"x":-1.659,"y":-8.614},{"p":"d","s":"t","r":82,"x":-1.73,"y":-8.628},{"p":"d","s":"t","r":82,"x":-1.797,"y":-8.624},{"p":"d","s":"t","r":82,"x":-1.817,"y":-8.614},{"p":"d","s":"t","r":82,"x":-1.821,"y":-8.597},
{"p":"d","s":"t","r":83,"x":-1.783,"y":-8.599},{"p":"d","s":"t","r":83,"x":-1.774,"y":-8.587},{"p":"d","s":"t","r":83,"x":-1.754,"y":-8.579},{"p":"d","s":"t","r":83,"x":-1.719,"y":-8.58},{"p":"d","s":"t","r":83,"x":-1.701,"y":-8.589},{"p":"d","s":"t","r":83,"x":-1.681,"y":-8.597},{"p":"d","s":"t","r":83,"x":-1.697,"y":-8.608},{"p":"d","s":"t","r":83,"x":-1.734,"y":-8.615},{"p":"d","s":"t","r":83,"x":-1.771,"y":-8.613},{"p":"d","s":"t","r":83,"x":-1.781,"y":-8.608},{"p":"d","s":"t","r":83,"x":-1.783,"y":-8.599},
{"p":"d","s":"u","r":84,"x":-2.108,"y":-8.732},{"p":"d","s":"u","r":84,"x":-2.064,"y":-8.666},{"p":"d","s":"u","r":84,"x":-1.946,"y":-8.648},{"p":"d","s":"u","r":84,"x":-1.785,"y":-8.693},{"p":"d","s":"u","r":84,"x":-1.74,"y":-8.758},{"p":"d","s":"u","r":84,"x":-1.814,"y":-8.81},{"p":"d","s":"u","r":84,"x":-1.99,"y":-8.815},{"p":"d","s":"u","r":84,"x":-2.079,"y":-8.784},{"p":"d","s":"u","r":84,"x":-2.108,"y":-8.732},
{"p":"d","s":"u","r":85,"x":-2.092,"y":-8.732},{"p":"d","s":"u","r":85,"x":-2.054,"y":-8.676},{"p":"d","s":"u","r":85,"x":-1.954,"y":-8.66},{"p":"d","s":"u","r":85,"x":-1.817,"y":-8.699},{"p":"d","s":"u","r":85,"x":-1.779,"y":-8.754},{"p":"d","s":"u","r":85,"x":-1.842,"y":-8.798},{"p":"d","s":"u","r":85,"x":-1.991,"y":-8.802},{"p":"d","s":"u","r":85,"x":-2.067,"y":-8.776},{"p":"d","s":"u","r":85,"x":-2.092,"y":-8.732},
{"p":"d","s":"u","r":86,"x":-2.076,"y":-8.731},{"p":"d","s":"u","r":86,"x":-2.045,"y":-8.685},{"p":"d","s":"u","r":86,"x":-1.962,"y":-8.673},{"p":"d","s":"u","r":86,"x":-1.849,"y":-8.704},{"p":"d","s":"u","r":86,"x":-1.818,"y":-8.75},{"p":"d","s":"u","r":86,"x":-1.87,"y":-8.786},{"p":"d","s":"u","r":86,"x":-1.993,"y":-8.79},{"p":"d","s":"u","r":86,"x":-2.055,"y":-8.768},{"p":"d","s":"u","r":86,"x":-2.076,"y":-8.731},
{"p":"d","s":"u","r":87,"x":-2.059,"y":-8.731},{"p":"d","s":"u","r":87,"x":-2.035,"y":-8.695},{"p":"d","s":"u","r":87,"x":-1.97,"y":-8.685},{"p":"d","s":"u","r":87,"x":-1.882,"y":-8.71},{"p":"d","s":"u","r":87,"x":-1.857,"y":-8.745},{"p":"d","s":"u","r":87,"x":-1.898,"y":-8.774},{"p":"d","s":"u","r":87,"x":-1.994,"y":-8.777},{"p":"d","s":"u","r":87,"x":-2.043,"y":-8.76},{"p":"d","s":"u","r":87,"x":-2.059,"y":-8.731},
{"p":"d","s":"u","r":88,"x":-2.043,"y":-8.731},{"p":"d","s":"u","r":88,"x":-2.026,"y":-8.704},{"p":"d","s":"u","r":88,"x":-1.978,"y":-8.697},{"p":"d","s":"u","r":88,"x":-1.914,"y":-8.715},{"p":"d","s":"u","r":88,"x":-1.896,"y":-8.741},{"p":"d","s":"u","r":88,"x":-1.926,"y":-8.762},{"p":"d","s":"u","r":88,"x":-1.996,"y":-8.764},{"p":"d","s":"u","r":88,"x":-2.032,"y":-8.752},{"p":"d","s":"u","r":88,"x":-2.043,"y":-8.731},
{"p":"d","s":"u","r":89,"x":-2.027,"y":-8.73},{"p":"d","s":"u","r":89,"x":-2.016,"y":-8.714},{"p":"d","s":"u","r":89,"x":-1.986,"y":-8.709},{"p":"d","s":"u","r":89,"x":-1.946,"y":-8.721},{"p":"d","s":"u","r":89,"x":-1.935,"y":-8.737},{"p":"d","s":"u","r":89,"x":-1.953,"y":-8.75},{"p":"d","s":"u","r":89,"x":-1.997,"y":-8.751},{"p":"d","s":"u","r":89,"x":-2.02,"y":-8.744},{"p":"d","s":"u","r":89,"x":-2.027,"y":-8.73},
{"p":"d","s":"u","r":90,"x":-2.976,"y":-8.562},{"p":"d","s":"u","r":90,"x":-2.859,"y":-8.615},{"p":"d","s":"u","r":90,"x":-2.8,"y":-8.68},{"p":"d","s":"u","r":90,"x":-2.815,"y":-8.784},{"p":"d","s":"u","r":90,"x":-2.903,"y":-8.875},{"p":"d","s":"u","r":90,"x":-2.976,"y":-8.849},{"p":"d","s":"u","r":90,"x":-3.049,"y":-8.745},{"p":"d","s":"u","r":90,"x":-3.049,"y":-8.627},{"p":"d","s":"u","r":90,"x":-2.976,"y":-8.562},
{"p":"d","s":"u","r":91,"x":-2.973,"y":-8.595},{"p":"d","s":"u","r":91,"x":-2.889,"y":-8.633},{"p":"d","s":"u","r":91,"x":-2.846,"y":-8.68},{"p":"d","s":"u","r":91,"x":-2.857,"y":-8.755},{"p":"d","s":"u","r":91,"x":-2.92,"y":-8.82},{"p":"d","s":"u","r":91,"x":-2.973,"y":-8.802},{"p":"d","s":"u","r":91,"x":-3.025,"y":-8.727},{"p":"d","s":"u","r":91,"x":-3.025,"y":-8.642},{"p":"d","s":"u","r":91,"x":-2.973,"y":-8.595},
{"p":"d","s":"u","r":92,"x":-2.97,"y":-8.627},{"p":"d","s":"u","r":92,"x":-2.917,"y":-8.651},{"p":"d","s":"u","r":92,"x":-2.891,"y":-8.68},{"p":"d","s":"u","r":92,"x":-2.897,"y":-8.727},{"p":"d","s":"u","r":92,"x":-2.937,"y":-8.768},{"p":"d","s":"u","r":92,"x":-2.97,"y":-8.756},{"p":"d","s":"u","r":92,"x":-3.003,"y":-8.709},{"p":"d","s":"u","r":92,"x":-3.003,"y":-8.656},{"p":"d","s":"u","r":92,"x":-2.97,"y":-8.627},
{"p":"d","s":"u","r":93,"x":-2.967,"y":-8.656},{"p":"d","s":"u","r":93,"x":-2.944,"y":-8.667},{"p":"d","s":"u","r":93,"x":-2.932,"y":-8.68},{"p":"d","s":"u","r":93,"x":-2.935,"y":-8.701},{"p":"d","s":"u","r":93,"x":-2.953,"y":-8.719},{"p":"d","s":"u","r":93,"x":-2.967,"y":-8.714},{"p":"d","s":"u","r":93,"x":-2.982,"y":-8.693},{"p":"d","s":"u","r":93,"x":-2.982,"y":-8.669},{"p":"d","s":"u","r":93,"x":-2.967,"y":-8.656},
{"p":"d","s":"t","r":94,"x":-2.756,"y":-8.771},{"p":"d","s":"t","r":94,"x":-2.667,"y":-8.849},{"p":"d","s":"t","r":94,"x":-2.667,"y":-9.045},{"p":"d","s":"t","r":94,"x":-2.756,"y":-9.232},{"p":"d","s":"t","r":94,"x":-2.844,"y":-9.096},{"p":"d","s":"t","r":94,"x":-2.844,"y":-8.862},{"p":"d","s":"t","r":94,"x":-2.756,"y":-8.771},
{"p":"d","s":"t","r":95,"x":-2.756,"y":-8.823},{"p":"d","s":"t","r":95,"x":-2.689,"y":-8.882},{"p":"d","s":"t","r":95,"x":-2.689,"y":-9.029},{"p":"d","s":"t","r":95,"x":-2.756,"y":-9.169},{"p":"d","s":"t","r":95,"x":-2.822,"y":-9.067},{"p":"d","s":"t","r":95,"x":-2.822,"y":-8.892},{"p":"d","s":"t","r":95,"x":-2.756,"y":-8.823},
{"p":"d","s":"t","r":96,"x":-2.756,"y":-8.876},{"p":"d","s":"t","r":96,"x":-2.712,"y":-8.915},{"p":"d","s":"t","r":96,"x":-2.712,"y":-9.013},{"p":"d","s":"t","r":96,"x":-2.756,"y":-9.106},{"p":"d","s":"t","r":96,"x":-2.8,"y":-9.038},{"p":"d","s":"t","r":96,"x":-2.8,"y":-8.921},{"p":"d","s":"t","r":96,"x":-2.756,"y":-8.876},
{"p":"d","s":"t","r":97,"x":-2.756,"y":-8.928},{"p":"d","s":"t","r":97,"x":-2.734,"y":-8.947},{"p":"d","s":"t","r":97,"x":-2.734,"y":-8.996},{"p":"d","s":"t","r":97,"x":-2.756,"y":-9.043},{"p":"d","s":"t","r":97,"x":-2.778,"y":-9.009},{"p":"d","s":"t","r":97,"x":-2.778,"y":-8.951},{"p":"d","s":"t","r":97,"x":-2.756,"y":-8.928},
{"p":"d","s":"u","r":98,"x":-4.02,"y":-8.15},{"p":"d","s":"u","r":98,"x":-3.96,"y":-8.19},{"p":"d","s":"u","r":98,"x":-3.92,"y":-8.28},{"p":"d","s":"u","r":98,"x":-3.92,"y":-8.37},{"p":"d","s":"u","r":98,"x":-3.96,"y":-8.43},{"p":"d","s":"u","r":98,"x":-4.02,"y":-8.47},
{"p":"d","s":"u","r":99,"x":-4.02,"y":-8.2},{"p":"d","s":"u","r":99,"x":-3.97,"y":-8.24},{"p":"d","s":"u","r":99,"x":-3.945,"y":-8.3},{"p":"d","s":"u","r":99,"x":-3.945,"y":-8.36},{"p":"d","s":"u","r":99,"x":-3.97,"y":-8.41},{"p":"d","s":"u","r":99,"x":-4.02,"y":-8.43},
{"p":"d","s":"u","r":100,"x":-4.02,"y":-8.26},{"p":"d","s":"u","r":100,"x":-3.98,"y":-8.29},{"p":"d","s":"u","r":100,"x":-3.97,"y":-8.32},{"p":"d","s":"u","r":100,"x":-3.98,"y":-8.36},{"p":"d","s":"u","r":100,"x":-4.02,"y":-8.38},
{"p":"d","s":"u","r":101,"x":-0.98,"y":-8.99},{"p":"d","s":"u","r":101,"x":-1.03,"y":-9.03},{"p":"d","s":"u","r":101,"x":-1.06,"y":-9.1},{"p":"d","s":"u","r":101,"x":-1.05,"y":-9.18},{"p":"d","s":"u","r":101,"x":-1.0,"y":-9.24},{"p":"d","s":"u","r":101,"x":-0.98,"y":-9.25},
{"p":"d","s":"u","r":102,"x":-0.98,"y":-9.04},{"p":"d","s":"u","r":102,"x":-1.02,"y":-9.07},{"p":"d","s":"u","r":102,"x":-1.04,"y":-9.12},{"p":"d","s":"u","r":102,"x":-1.02,"y":-9.18},{"p":"d","s":"u","r":102,"x":-0.98,"y":-9.2},
{"p":"d","s":"u","r":103,"x":-0.98,"y":-9.08},{"p":"d","s":"u","r":103,"x":-1.0,"y":-9.1},{"p":"d","s":"u","r":103,"x":-1.01,"y":-9.13},{"p":"d","s":"u","r":103,"x":-0.98,"y":-9.16},
{"p":"d","s":"u","r":104,"x":-2.99,"y":-10.02},{"p":"d","s":"u","r":104,"x":-3.005,"y":-9.88},{"p":"d","s":"u","r":104,"x":-2.976,"y":-9.775},{"p":"d","s":"u","r":104,"x":-2.903,"y":-9.76},{"p":"d","s":"u","r":104,"x":-2.844,"y":-9.877},{"p":"d","s":"u","r":104,"x":-2.85,"y":-10.02},
{"p":"d","s":"t","r":105,"x":-2.53,"y":-10.02},{"p":"d","s":"t","r":105,"x":-2.505,"y":-9.91},{"p":"d","s":"t","r":105,"x":-2.48,"y":-10.02},
{"p":"d","s":"t","r":106,"x":-2.515,"y":-10.02},{"p":"d","s":"t","r":106,"x":-2.505,"y":-9.96},{"p":"d","s":"t","r":106,"x":-2.495,"y":-10.02},
{"p":"d","s":"t","r":107,"x":-1.3,"y":-7.99},{"p":"d","s":"t","r":107,"x":-1.2,"y":-8.015},{"p":"d","s":"t","r":107,"x":-1.1,"y":-8.015},{"p":"d","s":"t","r":107,"x":-0.98,"y":-8.0},
{"p":"d","s":"t","r":108,"x":-1.25,"y":-7.99},{"p":"d","s":"t","r":108,"x":-1.15,"y":-8.008},{"p":"d","s":"t","r":108,"x":-1.04,"y":-8.0}
]},
"spacing":9,
"resolve":{"scale":{"color":"independent"},"legend":{"color":"independent"}},
"vconcat":[
{"hconcat":[
{"width":340,"height":258,
 "title":{"text":"a)","anchor":"start","frame":"group","offset":-42,"dx":9},
 "transform":[{"filter":"datum.p === 'a'"}],
 "layer":[
  {"transform":[{"filter":"datum.s === 't'"}],
   "mark":{"type":"line","clip":true,"strokeWidth":1.8},
   "encoding":{
    "x":{"field":"x","type":"quantitative","scale":{"domain":[-3,-1],"nice":false,"zero":false},"axis":{"orient":"bottom","values":[-3,-2.5,-2,-1.5,-1],"format":".0f","labelExpr":"datum.value % 1 === 0 ? datum.label : ''","grid":true,"gridOpacity":{"condition":{"test":"datum.value === -2","value":1},"value":0},"title":null}},
    "y":{"field":"y","type":"quantitative","scale":{"domain":[-10,-7],"nice":false,"zero":false},"axis":{"orient":"left","values":[-10,-9.5,-9,-8.5,-8,-7.5,-7],"format":".0f","labelExpr":"datum.value % 1 === 0 ? datum.label : ''","grid":true,"gridOpacity":{"condition":{"test":"datum.value === -8 || datum.value === -9","value":1},"value":0},"title":"log [D/m² s⁻¹]","titleX":-36}},
    "color":{"field":"s","type":"nominal","scale":{"domain":["t","u"],"range":["#000000","#e8101a"]},"legend":null},
    "detail":{"field":"r","type":"nominal"},
    "order":{"value":null}}},
  {"transform":[{"filter":"datum.s === 'u'"}],
   "mark":{"type":"line","clip":true,"strokeWidth":1.7},
   "encoding":{
    "x":{"field":"x","type":"quantitative","scale":{"domain":[-3,-1],"nice":false,"zero":false},"axis":{"orient":"top","values":[-3,-2.5,-2,-1.5,-1],"labels":false,"grid":false,"title":null}},
    "y":{"field":"y","type":"quantitative","scale":{"domain":[-10,-7],"nice":false,"zero":false},"axis":{"orient":"right","values":[-10,-9.5,-9,-8.5,-8,-7.5,-7],"labels":false,"grid":false,"title":null}},
    "color":{"field":"s","type":"nominal","scale":{"domain":["t","u"],"range":["#000000","#e8101a"]},"legend":null},
    "detail":{"field":"r","type":"nominal"},
    "order":{"value":null}}}
 ],
 "resolve":{"axis":{"x":"independent","y":"independent"}}
},
{"width":340,"height":258,
 "title":{"text":"b)","anchor":"start","frame":"group","offset":-42,"dx":9},
 "transform":[{"filter":"datum.p === 'b'"}],
 "layer":[
  {"transform":[{"filter":"datum.s === 't'"}],
   "mark":{"type":"line","clip":true,"strokeWidth":1.8},
   "encoding":{
    "x":{"field":"x","type":"quantitative","scale":{"domain":[-2,0],"nice":false,"zero":false},"axis":{"orient":"bottom","values":[-2,-1.5,-1,-0.5,0],"format":".0f","labelExpr":"datum.value % 1 === 0 ? datum.label : ''","grid":true,"gridOpacity":{"condition":{"test":"datum.value === -1","value":1},"value":0},"title":null}},
    "y":{"field":"y","type":"quantitative","scale":{"domain":[-11,-7],"nice":false,"zero":false},"axis":{"orient":"left","values":[-11,-10.5,-10,-9.5,-9,-8.5,-8,-7.5,-7],"format":".0f","labelExpr":"datum.value % 1 === 0 ? datum.label : ''","grid":true,"gridOpacity":{"condition":{"test":"datum.value === -8 || datum.value === -9 || datum.value === -10","value":1},"value":0},"title":null}},
    "color":{"field":"s","type":"nominal","scale":{"domain":["t","u"],"range":["#000000","#e8101a"]},"legend":{"orient":"none","legendX":204,"legendY":14,"title":null,"symbolType":"stroke","symbolSize":1000,"symbolStrokeWidth":1.5,"clipHeight":19,"labelFontSize":19,"labelOffset":8,"rowPadding":5,"labelExpr":"datum.value === 't' ? 'traditional' : 'ultrafast'"}},
    "detail":{"field":"r","type":"nominal"},
    "order":{"value":null}}},
  {"transform":[{"filter":"datum.s === 'u'"}],
   "mark":{"type":"line","clip":true,"strokeWidth":1.7},
   "encoding":{
    "x":{"field":"x","type":"quantitative","scale":{"domain":[-2,0],"nice":false,"zero":false},"axis":{"orient":"top","values":[-2,-1.5,-1,-0.5,0],"labels":false,"grid":false,"title":null}},
    "y":{"field":"y","type":"quantitative","scale":{"domain":[-11,-7],"nice":false,"zero":false},"axis":{"orient":"right","values":[-11,-10.5,-10,-9.5,-9,-8.5,-8,-7.5,-7],"labels":false,"grid":false,"title":null}},
    "color":{"field":"s","type":"nominal","scale":{"domain":["t","u"],"range":["#000000","#e8101a"]},"legend":{"orient":"none","legendX":204,"legendY":14,"title":null,"symbolType":"stroke","symbolSize":1000,"symbolStrokeWidth":1.5,"clipHeight":19,"labelFontSize":19,"labelOffset":8,"rowPadding":5,"labelExpr":"datum.value === 't' ? 'traditional' : 'ultrafast'"}},
    "detail":{"field":"r","type":"nominal"},
    "order":{"value":null}}}
 ],
 "resolve":{"axis":{"x":"independent","y":"independent"}}
}],
 "spacing":40,"bounds":"flush",
 "resolve":{"scale":{"color":"independent"},"legend":{"color":"independent"}}
},
{"hconcat":[
{"width":340,"height":258,
 "title":{"text":"c)","anchor":"start","frame":"group","offset":-42,"dx":9},
 "transform":[{"filter":"datum.p === 'c'"}],
 "layer":[
  {"transform":[{"filter":"datum.s === 't'"}],
   "mark":{"type":"line","clip":true,"strokeWidth":1.8},
   "encoding":{
    "x":{"field":"x","type":"quantitative","scale":{"domain":[-3,0],"nice":false,"zero":false},"axis":{"orient":"bottom","values":[-3,-2.5,-2,-1.5,-1,-0.5,0],"format":".0f","labelExpr":"datum.value % 1 === 0 ? datum.label : ''","grid":true,"gridOpacity":{"condition":{"test":"datum.value === -2 || datum.value === -1","value":1},"value":0},"title":"log [T₂/s]"}},
    "y":{"field":"y","type":"quantitative","scale":{"domain":[-13,-10],"nice":false,"zero":false},"axis":{"orient":"left","values":[-13,-12.5,-12,-11.5,-11,-10.5,-10],"format":".0f","labelExpr":"datum.value % 1 === 0 ? datum.label : ''","grid":true,"gridOpacity":{"condition":{"test":"datum.value === -11 || datum.value === -12","value":1},"value":0},"title":"log [D/m² s⁻¹]","titleX":-36}},
    "color":{"field":"s","type":"nominal","scale":{"domain":["t","u"],"range":["#000000","#e8101a"]},"legend":null},
    "detail":{"field":"r","type":"nominal"},
    "order":{"value":null}}},
  {"transform":[{"filter":"datum.s === 'u'"}],
   "mark":{"type":"line","clip":true,"strokeWidth":1.7},
   "encoding":{
    "x":{"field":"x","type":"quantitative","scale":{"domain":[-3,0],"nice":false,"zero":false},"axis":{"orient":"top","values":[-3,-2.5,-2,-1.5,-1,-0.5,0],"labels":false,"grid":false,"title":null}},
    "y":{"field":"y","type":"quantitative","scale":{"domain":[-13,-10],"nice":false,"zero":false},"axis":{"orient":"right","values":[-13,-12.5,-12,-11.5,-11,-10.5,-10],"labels":false,"grid":false,"title":null}},
    "color":{"field":"s","type":"nominal","scale":{"domain":["t","u"],"range":["#000000","#e8101a"]},"legend":null},
    "detail":{"field":"r","type":"nominal"},
    "order":{"value":null}}}
 ],
 "resolve":{"axis":{"x":"independent","y":"independent"}}
},
{"width":340,"height":258,
 "title":{"text":"d)","anchor":"start","frame":"group","offset":-42,"dx":9},
 "transform":[{"filter":"datum.p === 'd'"}],
 "layer":[
  {"transform":[{"filter":"datum.s === 'u'"}],
   "mark":{"type":"line","clip":true,"strokeWidth":1.5},
   "encoding":{
    "x":{"field":"x","type":"quantitative","scale":{"domain":[-4,-1],"nice":false,"zero":false},"axis":{"orient":"bottom","values":[-4,-3.5,-3,-2.5,-2,-1.5,-1],"format":".0f","labelExpr":"datum.value % 1 === 0 ? datum.label : ''","grid":true,"gridOpacity":{"condition":{"test":"datum.value === -3 || datum.value === -2","value":1},"value":0},"title":"log [T₂/s]"}},
    "y":{"field":"y","type":"quantitative","scale":{"domain":[-10,-8],"nice":false,"zero":false},"axis":{"orient":"left","values":[-10,-9.6667,-9.3333,-9,-8.6667,-8.3333,-8],"format":".0f","labelExpr":"datum.value % 1 === 0 ? datum.label : ''","grid":true,"gridOpacity":{"condition":{"test":"datum.value === -9","value":1},"value":0},"title":null}},
    "color":{"field":"s","type":"nominal","scale":{"domain":["t","u"],"range":["#000000","#e8101a"]},"legend":null},
    "detail":{"field":"r","type":"nominal"},
    "order":{"value":null}}},
  {"transform":[{"filter":"datum.s === 't'"}],
   "mark":{"type":"line","clip":true,"strokeWidth":1.8},
   "encoding":{
    "x":{"field":"x","type":"quantitative","scale":{"domain":[-4,-1],"nice":false,"zero":false},"axis":{"orient":"top","values":[-4,-3.5,-3,-2.5,-2,-1.5,-1],"labels":false,"grid":false,"title":null}},
    "y":{"field":"y","type":"quantitative","scale":{"domain":[-10,-8],"nice":false,"zero":false},"axis":{"orient":"right","values":[-10,-9.6667,-9.3333,-9,-8.6667,-8.3333,-8],"labels":false,"grid":false,"title":null}},
    "color":{"field":"s","type":"nominal","scale":{"domain":["t","u"],"range":["#000000","#e8101a"]},"legend":null},
    "detail":{"field":"r","type":"nominal"},
    "order":{"value":null}}}
 ],
 "resolve":{"axis":{"x":"independent","y":"independent"}}
}],
 "spacing":40,"bounds":"flush",
 "resolve":{"scale":{"color":"independent"},"legend":{"color":"independent"}}
}
],
"config":{
 "font":"Liberation Sans",
 "view":{"stroke":null},
 "axis":{"domain":true,"domainColor":"#000000","domainWidth":1.5,"tickColor":"#000000","tickSize":-6,"tickWidth":1,"labelPadding":14,"labelFont":"Liberation Sans","labelFontSize":19,"labelColor":"#000000","titleFont":"Liberation Sans","titleFontSize":19,"titleFontWeight":"normal","titleColor":"#000000","titlePadding":2,"labelFlush":false,"labelOverlap":false,"gridColor":"#b4b4b4","gridDash":[6,5],"gridWidth":1},
 "title":{"font":"Liberation Sans","fontSize":19,"fontWeight":"bold","color":"#000000"},
 "legend":{"labelFont":"Liberation Sans","labelColor":"#000000"}
}
}
